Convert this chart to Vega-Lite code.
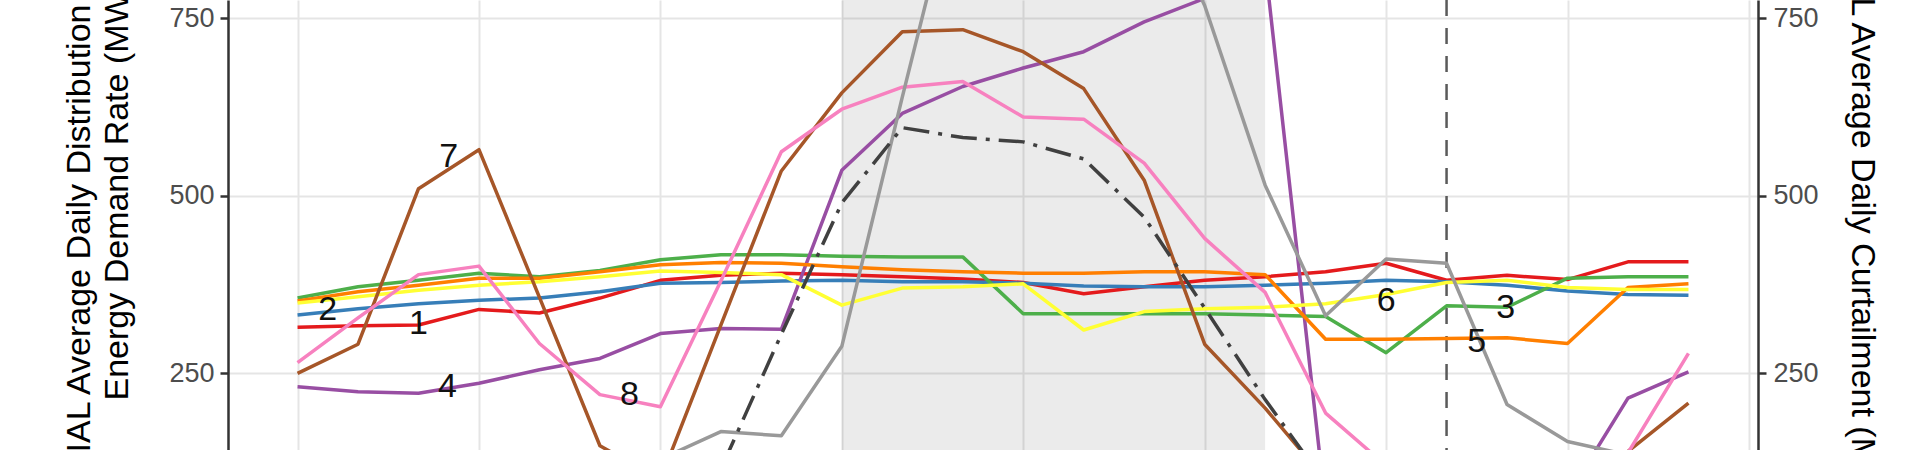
{
  "$schema": "https://vega.github.io/schema/vega-lite/v6.json",
  "width": 1530,
  "height": 450,
  "autosize": {"type": "none"},
  "padding": {"left": 228, "right": 162, "top": 0, "bottom": 0},
  "background": "white",
  "config": {"view": {"stroke": null}, "font": "Liberation Sans"},
  "datasets": {
    "shade": [{"h": 9, "h2": 16}],
    "vline": [{"h": 19}],
    "labels": [
      {"h": 0.5, "v": 339, "label": "2"},
      {"h": 2.0, "v": 319, "label": "1"},
      {"h": 2.5, "v": 555, "label": "7"},
      {"h": 2.48, "v": 231, "label": "4"},
      {"h": 5.49, "v": 219, "label": "8"},
      {"h": 18.0, "v": 352, "label": "6"},
      {"h": 19.98, "v": 342, "label": "3"},
      {"h": 19.5, "v": 294, "label": "5"}
    ],
    "lines": [
      {"s":"1","h":0,"v":315},{"s":"1","h":1,"v":317},{"s":"1","h":2,"v":318},{"s":"1","h":3,"v":340},{"s":"1","h":4,"v":335},{"s":"1","h":5,"v":356},{"s":"1","h":6,"v":381},{"s":"1","h":7,"v":388},{"s":"1","h":8,"v":391},{"s":"1","h":9,"v":389},{"s":"1","h":10,"v":386},{"s":"1","h":11,"v":383},{"s":"1","h":12,"v":378},{"s":"1","h":13,"v":362},{"s":"1","h":14,"v":372},{"s":"1","h":15,"v":381},{"s":"1","h":16,"v":386},{"s":"1","h":17,"v":393},{"s":"1","h":18,"v":405},{"s":"1","h":19,"v":381},{"s":"1","h":20,"v":388},{"s":"1","h":21,"v":382},{"s":"1","h":22,"v":407},{"s":"1","h":23,"v":407},
      {"s":"2","h":0,"v":332},{"s":"2","h":1,"v":341},{"s":"2","h":2,"v":348},{"s":"2","h":3,"v":353},{"s":"2","h":4,"v":356},{"s":"2","h":5,"v":365},{"s":"2","h":6,"v":377},{"s":"2","h":7,"v":378},{"s":"2","h":8,"v":380},{"s":"2","h":9,"v":381},{"s":"2","h":10,"v":379},{"s":"2","h":11,"v":379},{"s":"2","h":12,"v":377},{"s":"2","h":13,"v":373},{"s":"2","h":14,"v":372},{"s":"2","h":15,"v":372},{"s":"2","h":16,"v":374},{"s":"2","h":17,"v":377},{"s":"2","h":18,"v":381},{"s":"2","h":19,"v":379},{"s":"2","h":20,"v":374},{"s":"2","h":21,"v":366},{"s":"2","h":22,"v":361},{"s":"2","h":23,"v":360},
      {"s":"3","h":0,"v":356},{"s":"3","h":1,"v":372},{"s":"3","h":2,"v":381},{"s":"3","h":3,"v":391},{"s":"3","h":4,"v":386},{"s":"3","h":5,"v":395},{"s":"3","h":6,"v":410},{"s":"3","h":7,"v":417},{"s":"3","h":8,"v":417},{"s":"3","h":9,"v":415},{"s":"3","h":10,"v":414},{"s":"3","h":11,"v":414},{"s":"3","h":12,"v":334},{"s":"3","h":13,"v":334},{"s":"3","h":14,"v":334},{"s":"3","h":15,"v":334},{"s":"3","h":16,"v":332},{"s":"3","h":17,"v":330},{"s":"3","h":18,"v":279},{"s":"3","h":19,"v":345},{"s":"3","h":20,"v":343},{"s":"3","h":21,"v":384},{"s":"3","h":22,"v":386},{"s":"3","h":23,"v":386},
      {"s":"4","h":0,"v":231},{"s":"4","h":1,"v":224},{"s":"4","h":2,"v":222},{"s":"4","h":3,"v":236},{"s":"4","h":4,"v":255},{"s":"4","h":5,"v":271},{"s":"4","h":6,"v":306},{"s":"4","h":7,"v":313},{"s":"4","h":8,"v":312},{"s":"4","h":9,"v":536},{"s":"4","h":10,"v":616},{"s":"4","h":11,"v":654},{"s":"4","h":12,"v":680},{"s":"4","h":13,"v":703},{"s":"4","h":14,"v":745},{"s":"4","h":15,"v":778},{"s":"4","h":16,"v":826},{"s":"4","h":17,"v":60},{"s":"4","h":18,"v":50},{"s":"4","h":19,"v":50},{"s":"4","h":20,"v":55},{"s":"4","h":21,"v":77},{"s":"4","h":22,"v":215},{"s":"4","h":23,"v":252},
      {"s":"5","h":0,"v":352},{"s":"5","h":1,"v":365},{"s":"5","h":2,"v":374},{"s":"5","h":3,"v":384},{"s":"5","h":4,"v":384},{"s":"5","h":5,"v":393},{"s":"5","h":6,"v":403},{"s":"5","h":7,"v":406},{"s":"5","h":8,"v":405},{"s":"5","h":9,"v":400},{"s":"5","h":10,"v":396},{"s":"5","h":11,"v":393},{"s":"5","h":12,"v":391},{"s":"5","h":13,"v":391},{"s":"5","h":14,"v":393},{"s":"5","h":15,"v":393},{"s":"5","h":16,"v":389},{"s":"5","h":17,"v":298},{"s":"5","h":18,"v":298},{"s":"5","h":19,"v":299},{"s":"5","h":20,"v":300},{"s":"5","h":21,"v":292},{"s":"5","h":22,"v":371},{"s":"5","h":23,"v":376},
      {"s":"6","h":0,"v":349},{"s":"6","h":1,"v":358},{"s":"6","h":2,"v":367},{"s":"6","h":3,"v":374},{"s":"6","h":4,"v":379},{"s":"6","h":5,"v":386},{"s":"6","h":6,"v":394},{"s":"6","h":7,"v":392},{"s":"6","h":8,"v":389},{"s":"6","h":9,"v":346},{"s":"6","h":10,"v":370},{"s":"6","h":11,"v":372},{"s":"6","h":12,"v":376},{"s":"6","h":13,"v":311},{"s":"6","h":14,"v":337},{"s":"6","h":15,"v":341},{"s":"6","h":16,"v":343},{"s":"6","h":17,"v":348},{"s":"6","h":18,"v":361},{"s":"6","h":19,"v":378},{"s":"6","h":20,"v":381},{"s":"6","h":21,"v":371},{"s":"6","h":22,"v":368},{"s":"6","h":23,"v":368},
      {"s":"7","h":0,"v":250},{"s":"7","h":1,"v":291},{"s":"7","h":2,"v":510},{"s":"7","h":3,"v":565},{"s":"7","h":4,"v":357},{"s":"7","h":5,"v":148},{"s":"7","h":6,"v":100},{"s":"7","h":7,"v":318},{"s":"7","h":8,"v":535},{"s":"7","h":9,"v":645},{"s":"7","h":10,"v":731},{"s":"7","h":11,"v":734},{"s":"7","h":12,"v":703},{"s":"7","h":13,"v":651},{"s":"7","h":14,"v":522},{"s":"7","h":15,"v":291},{"s":"7","h":16,"v":201},{"s":"7","h":17,"v":100},{"s":"7","h":18,"v":75},{"s":"7","h":19,"v":60},{"s":"7","h":20,"v":60},{"s":"7","h":21,"v":90},{"s":"7","h":22,"v":140},{"s":"7","h":23,"v":208},
      {"s":"8","h":0,"v":265},{"s":"8","h":1,"v":328},{"s":"8","h":2,"v":389},{"s":"8","h":3,"v":401},{"s":"8","h":4,"v":292},{"s":"8","h":5,"v":220},{"s":"8","h":6,"v":203},{"s":"8","h":7,"v":380},{"s":"8","h":8,"v":562},{"s":"8","h":9,"v":622},{"s":"8","h":10,"v":653},{"s":"8","h":11,"v":661},{"s":"8","h":12,"v":611},{"s":"8","h":13,"v":608},{"s":"8","h":14,"v":546},{"s":"8","h":15,"v":440},{"s":"8","h":16,"v":364},{"s":"8","h":17,"v":194},{"s":"8","h":18,"v":120},{"s":"8","h":19,"v":110},{"s":"8","h":20,"v":105},{"s":"8","h":21,"v":100},{"s":"8","h":22,"v":138},{"s":"8","h":23,"v":278},
      {"s":"9","h":0,"v":110},{"s":"9","h":1,"v":110},{"s":"9","h":2,"v":115},{"s":"9","h":3,"v":115},{"s":"9","h":4,"v":120},{"s":"9","h":5,"v":125},{"s":"9","h":6,"v":129},{"s":"9","h":7,"v":168},{"s":"9","h":8,"v":162},{"s":"9","h":9,"v":288},{"s":"9","h":10,"v":639},{"s":"9","h":11,"v":980},{"s":"9","h":12,"v":1000},{"s":"9","h":13,"v":990},{"s":"9","h":14,"v":950},{"s":"9","h":15,"v":768},{"s":"9","h":16,"v":515},{"s":"9","h":17,"v":331},{"s":"9","h":18,"v":411},{"s":"9","h":19,"v":405},{"s":"9","h":20,"v":206},{"s":"9","h":21,"v":154},{"s":"9","h":22,"v":135},{"s":"9","h":23,"v":125}
    ],
    "avg": [
      {"h":0,"v":90},{"h":1,"v":85},{"h":2,"v":80},{"h":3,"v":80},{"h":4,"v":80},{"h":5,"v":85},{"h":6,"v":95},{"h":7,"v":115},{"h":8,"v":305},{"h":9,"v":490},{"h":10,"v":596},{"h":11,"v":582},{"h":12,"v":576},{"h":13,"v":552},{"h":14,"v":470},{"h":15,"v":342},{"h":16,"v":213},{"h":17,"v":95},{"h":18,"v":70},{"h":19,"v":60},{"h":20,"v":60},{"h":21,"v":60},{"h":22,"v":70},{"h":23,"v":80}
    ]
  },
  "layer": [
    {
      "data": {"name": "shade"},
      "mark": {"type": "rect", "color": "#000000", "opacity": 0.08},
      "encoding": {
        "x": {"field": "h", "type": "quantitative", "scale": {"domain": [-1.15, 24.15], "nice": false, "zero": false},
              "axis": {"values": [0,3,6,9,12,15,18,21,24], "grid": true, "gridColor": "#e5e5e5", "gridWidth": 2, "domain": false, "ticks": false, "labels": false, "title": null}},
        "x2": {"field": "h2"}
      }
    },
    {
      "data": {"name": "vline"},
      "mark": {"type": "rule", "color": "#5a5a5a", "strokeWidth": 2.5, "strokeDash": [16, 12]},
      "encoding": {
        "x": {"field": "h", "type": "quantitative", "scale": {"domain": [-1.15, 24.15], "nice": false, "zero": false},
              "axis": {"values": [0,3,6,9,12,15,18,21,24], "grid": true, "gridColor": "#e5e5e5", "gridWidth": 2, "domain": false, "ticks": false, "labels": false, "title": null}}
      }
    },
    {
      "data": {"name": "lines"},
      "mark": {"type": "line", "strokeWidth": 3.5, "clip": true, "strokeJoin": "round"},
      "encoding": {
        "x": {"field": "h", "type": "quantitative", "scale": {"domain": [-1.15, 24.15], "nice": false, "zero": false},
              "axis": {"values": [0,3,6,9,12,15,18,21,24], "grid": true, "gridColor": "#e5e5e5", "gridWidth": 2, "domain": false, "ticks": false, "labels": false, "title": null}},
        "y": {"field": "v", "type": "quantitative", "scale": {"domain": [142, 775.8], "nice": false, "zero": false},
              "axis": {"orient": "left", "values": [250, 500, 750], "grid": true, "gridColor": "#e5e5e5", "gridWidth": 2,
                       "domainColor": "#333333", "domainWidth": 2.5, "tickColor": "#333333", "tickWidth": 2.5, "tickSize": 8,
                       "labelFont": "Liberation Sans", "labelFontSize": 27, "labelColor": "#4d4d4d", "labelPadding": 6, "labelFlush": false, "labelOverlap": false,
                       "title": "Energy Demand Rate (MW)",
                       "titleFont": "Liberation Sans", "titleFontSize": 34, "titleFontWeight": "normal", "titleColor": "#000000",
                       "titleAngle": 270, "titleAlign": "left", "titleBaseline": "alphabetic", "titleAnchor": null,
                       "titleX": -101, "titleY": 400}},
        "color": {"field": "s", "type": "nominal", "legend": null,
                  "scale": {"domain": ["1","2","3","4","5","6","7","8","9"],
                            "range": ["#E41A1C","#377EB8","#4DAF4A","#984EA3","#FF7F00","#FFFF33","#A65628","#F781BF","#999999"]}}
      }
    },
    {
      "data": {"name": "avg"},
      "mark": {"type": "line", "strokeWidth": 3.5, "clip": true, "color": "#404040", "strokeDash": [26, 9, 4, 9]},
      "encoding": {
        "x": {"field": "h", "type": "quantitative", "scale": {"domain": [-1.15, 24.15], "nice": false, "zero": false},
              "axis": {"values": [0,3,6,9,12,15,18,21,24], "grid": true, "gridColor": "#e5e5e5", "gridWidth": 2, "domain": false, "ticks": false, "labels": false, "title": null}},
        "y": {"field": "v", "type": "quantitative", "scale": {"domain": [142, 775.8], "nice": false, "zero": false},
              "axis": {"orient": "right", "values": [250, 500, 750], "grid": false,
                       "domainColor": "#333333", "domainWidth": 2.5, "tickColor": "#333333", "tickWidth": 2.5, "tickSize": 8,
                       "labelFont": "Liberation Sans", "labelFontSize": 27, "labelColor": "#4d4d4d", "labelPadding": 7, "labelFlush": false, "labelOverlap": false,
                       "title": "SPATIAL Average Daily Curtailment (MW)",
                       "titleFont": "Liberation Sans", "titleFontSize": 34, "titleFontWeight": "normal", "titleColor": "#000000",
                       "titleAngle": 90, "titleAlign": "left", "titleBaseline": "alphabetic", "titleAnchor": null,
                       "titleX": 93, "titleY": -119}}
      }
    },
    {
      "data": {"name": "labels"},
      "mark": {"type": "text", "font": "Liberation Sans", "fontSize": 34, "color": "#111111", "align": "center", "baseline": "middle"},
      "encoding": {
        "x": {"field": "h", "type": "quantitative", "scale": {"domain": [-1.15, 24.15], "nice": false, "zero": false},
              "axis": {"values": [0,3,6,9,12,15,18,21,24], "grid": true, "gridColor": "#e5e5e5", "gridWidth": 2, "domain": false, "ticks": false, "labels": false, "title": null}},
        "y": {"field": "v", "type": "quantitative", "scale": {"domain": [142, 775.8], "nice": false, "zero": false},
              "axis": {"orient": "left", "values": [250, 500, 750], "grid": false, "domain": false, "ticks": false, "labels": false,
                       "title": "SPATIAL Average Daily Distribution",
                       "titleFont": "Liberation Sans", "titleFontSize": 34, "titleFontWeight": "normal", "titleColor": "#000000",
                       "titleAngle": 270, "titleAlign": "right", "titleBaseline": "alphabetic", "titleAnchor": null,
                       "titleX": -139, "titleY": 4}},
        "text": {"field": "label"}
      }
    }
  ],
  "resolve": {"axis": {"y": "independent"}}
}
